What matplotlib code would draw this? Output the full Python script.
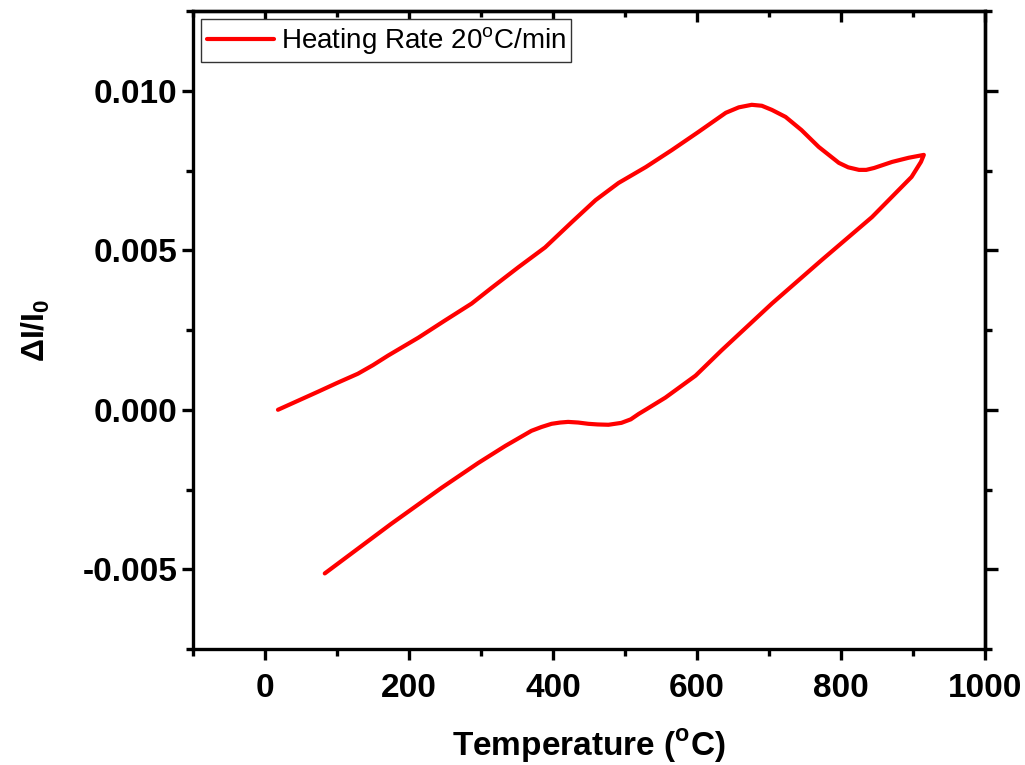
import matplotlib
matplotlib.use("Agg")
import matplotlib.pyplot as plt
from matplotlib.ticker import MultipleLocator, FormatStrFormatter

plt.rcParams['font.family'] = ['Liberation Sans', 'DejaVu Sans']
plt.rcParams['axes.unicode_minus'] = False
plt.rcParams['mathtext.fontset'] = 'custom'
plt.rcParams['mathtext.rm'] = 'Liberation Sans'
plt.rcParams['mathtext.bf'] = 'Liberation Sans:bold'

# Dilatometer loop: heating branch followed by cooling branch
temperature = [18, 74, 100, 129, 150, 171, 213, 250, 287, 314, 352, 389, 426,
               459, 491, 529, 565, 602, 640, 658, 676, 690, 704, 723, 745,
               769, 797, 810, 825, 835, 846, 871, 894, 915,
               911, 898, 843, 773, 704, 634, 598, 556, 530, 519, 508, 495,
               477, 462, 449, 435, 421, 410, 398, 384, 370, 334, 296, 245,
               175, 83]
strain = [0.0, 0.00057, 0.00084, 0.00113, 0.0014, 0.0017, 0.00226, 0.0028,
          0.00333, 0.00381, 0.00447, 0.00509, 0.00588, 0.00657, 0.00711,
          0.00761, 0.00814, 0.00871, 0.00931, 0.00948, 0.00956, 0.00953,
          0.0094, 0.00918, 0.00877, 0.00824, 0.00774, 0.0076, 0.00752,
          0.00752, 0.00758, 0.00777, 0.0079, 0.00799,
          0.00777, 0.0073, 0.00604, 0.00469, 0.00333, 0.00186, 0.00107,
          0.00038, 0.00002, -0.00013, -0.0003, -0.00041, -0.00047, -0.00046,
          -0.00044, -0.0004, -0.00038, -0.0004, -0.00044, -0.00054, -0.00066,
          -0.00113, -0.00167, -0.00245, -0.00358, -0.00513]

series_label = 'Heating Rate 20$^{\\mathrm{o}}$C/min'
x_label = 'Temperature ($^{\\mathbf{o}}$C)'
y_label = '\u0394I/I$_{\\mathbf{0}}$'

fig = plt.figure(figsize=(10.25, 7.65), dpi=100)
ax = fig.add_axes([0.1883, 0.1516, 0.961 - 0.1883, 0.9856 - 0.1516])

ax.plot(temperature, strain, color='#ff0000', lw=3.0, solid_capstyle='round',
        solid_joinstyle='round', label=series_label)

ax.set_xlim(-100, 1000)
ax.set_ylim(-0.0075, 0.0125)

ax.xaxis.set_major_locator(MultipleLocator(200))
ax.xaxis.set_minor_locator(MultipleLocator(100))
ax.yaxis.set_major_locator(MultipleLocator(0.005))
ax.yaxis.set_minor_locator(MultipleLocator(0.0025))
ax.yaxis.set_major_formatter(FormatStrFormatter('%.3f'))

for sp in ax.spines.values():
    sp.set_linewidth(2.4)

ax.tick_params(which='major', direction='out', length=8, width=2.4,
               labelsize=24)
ax.tick_params(axis='x', which='major', pad=9)
ax.tick_params(axis='y', which='major', pad=3)
ax.tick_params(which='minor', direction='out', length=5, width=2.4)
for lab in ax.get_xticklabels() + ax.get_yticklabels():
    lab.set_fontweight('bold')

# top axis: ticks pointing inward, no labels
top = ax.secondary_xaxis('top')
top.xaxis.set_major_locator(MultipleLocator(200))
top.xaxis.set_minor_locator(MultipleLocator(100))
top.tick_params(which='major', direction='in', length=8, width=2.4, labeltop=False)
top.tick_params(which='minor', direction='in', length=4, width=2.4)
top.spines['top'].set_linewidth(2.4)

# right axis: ticks pointing outward, no labels
right = ax.secondary_yaxis('right')
right.yaxis.set_major_locator(MultipleLocator(0.005))
right.yaxis.set_minor_locator(MultipleLocator(0.0025))
right.tick_params(which='major', direction='out', length=9, width=2.4, labelright=False)
right.tick_params(which='minor', direction='out', length=5, width=2.4)
right.spines['right'].set_linewidth(2.4)

ax.set_xlabel(x_label, fontsize=24, fontweight='bold', labelpad=17)
ax.set_ylabel(y_label, fontsize=23, fontweight='bold', labelpad=22)

leg = ax.legend(loc='upper left', fontsize=20, frameon=True, fancybox=False,
                borderpad=0.2, handlelength=2.4, handletextpad=0.25,
                borderaxespad=0.3)
leg.get_frame().set_edgecolor('#333333')
leg.get_frame().set_linewidth(1.0)
leg.get_frame().set_alpha(1.0)

fig.savefig('out.png', dpi=100)
